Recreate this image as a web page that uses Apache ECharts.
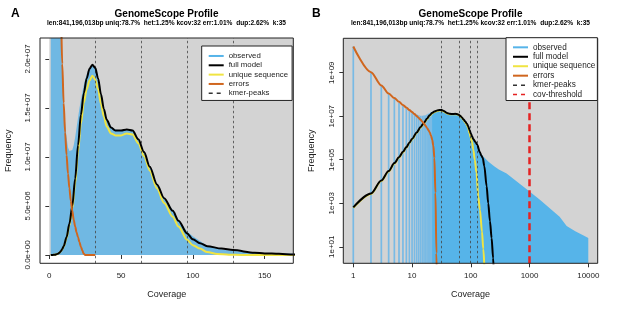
<!DOCTYPE html>
<html>
<head>
<meta charset="utf-8">
<script src="https://cdn.jsdelivr.net/npm/echarts@6.0.0/dist/echarts.min.js"></script>
<style>
  html, body { margin: 0; padding: 0; background: #fff; }
  #main { width: 617px; height: 311px; }
</style>
</head>
<body>
<div id="main"></div>
<script>
// k-mer histogram (observed)
const obsCov = [1, 2, 3, 4, 5, 6, 7, 8, 9, 10, 11, 12, 13, 14, 15, 16, 17, 18, 19, 20,
  21, 22, 23, 24, 25, 26, 27, 28, 29, 30, 32, 34, 36, 38, 40, 43, 46, 50, 54, 58,
  62, 66, 70, 75, 80, 86, 90, 96, 100, 110, 120, 128, 140, 150, 163, 200, 250, 300,
  407, 1000, 1500, 3250, 4280, 6000, 8000, 10000];
const obsFreq = [1.6e10, 1.0e9, 2.7e8, 1.1e8, 6.5e7, 4.2e7, 3.0e7, 2.3e7, 1.85e7, 1.55e7,
  1.35e7, 1.2e7, 1.1e7, 1.06e7, 1.04e7, 1.07e7, 1.12e7, 1.2e7, 1.3e7, 1.4e7,
  1.5e7, 1.58e7, 1.66e7, 1.73e7, 1.79e7, 1.84e7, 1.88e7, 1.91e7, 1.93e7, 1.93e7,
  1.9e7, 1.78e7, 1.62e7, 1.49e7, 1.39e7, 1.31e7, 1.28e7, 1.27e7, 1.28e7, 1.27e7,
  1.18e7, 1.05e7, 9.0e6, 7.2e6, 5.8e6, 4.6e6, 3.6e6, 2.4e6, 1.9e6, 9.5e5, 5.5e5, 4e5,
  2.4e5, 1.9e5, 1.4e5, 8e4, 5e4, 3.6e4, 2.3e4, 3.5e3, 1.45e3, 240, 90, 52, 35, 25];

// full model
const fullCov = [1, 2, 3, 4, 5, 6, 7, 8, 9, 10, 12, 14, 16, 18, 20, 22, 24, 26, 28, 30,
  32, 34, 36, 38, 40, 43, 46, 50, 54, 58, 62, 66, 70, 75, 80, 86, 90, 96, 100, 105,
  110, 120, 128, 143, 150, 160, 170, 186, 198, 212, 226, 240, 250, 260];
const fullFreq = [650, 2800, 1.1e4, 3e4, 7e4, 1.3e5, 2.3e5, 3.8e5, 6e5, 9e5, 1.8e6, 3.2e6,
  5e6, 7.8e6, 1.12e7, 1.43e7, 1.65e7, 1.8e7, 1.9e7, 1.94e7, 1.91e7, 1.8e7, 1.64e7,
  1.49e7, 1.38e7, 1.3e7, 1.27e7, 1.27e7, 1.28e7, 1.27e7, 1.18e7, 1.05e7, 9.0e6, 7.2e6,
  5.8e6, 4.5e6, 3.5e6, 2.2e6, 1.6e6, 1.2e6, 9e5, 6.5e5, 5e5, 2.2e5, 1.6e5, 1.2e5, 5e4,
  6e3, 1e3, 150, 25, 3, 0.3, 0.01];

// unique sequence
const uniqCov = [1, 2, 3, 4, 5, 6, 7, 8, 9, 10, 12, 14, 16, 18, 20, 22, 24, 26, 28, 30,
  32, 34, 36, 38, 40, 43, 46, 50, 54, 58, 62, 66, 70, 75, 80, 86, 90, 96, 100, 105,
  110, 117, 125, 134, 143, 155, 163, 175, 185];
const uniqFreq = [620, 2650, 1.05e4, 2.85e4, 6.6e4, 1.23e5, 2.2e5, 3.6e5, 5.7e5, 8.5e5,
  1.7e6, 3.0e6, 4.7e6, 7.3e6, 1.05e7, 1.34e7, 1.55e7, 1.69e7, 1.78e7, 1.83e7, 1.79e7,
  1.69e7, 1.54e7, 1.41e7, 1.31e7, 1.24e7, 1.22e7, 1.22e7, 1.24e7, 1.23e7, 1.14e7,
  1.01e7, 8.6e6, 6.8e6, 5.3e6, 3.9e6, 2.9e6, 1.55e6, 1.0e6, 6.5e5, 3e5, 1e5, 2.5e4,
  2e3, 500, 50, 8, 0.5, 0.01];

// errors
const errCov = [1, 2, 3, 4, 5, 6, 7, 8, 9, 10, 11, 12, 13, 14, 15, 16, 17, 18, 19, 20,
  21, 22, 23, 24, 25, 26, 27, 28, 30, 32];
const errFreq = [1.6e10, 1.05e9, 2.6e8, 1.1e8, 6.8e7, 4.6e7, 3.3e7, 2.5e7, 1.95e7, 1.55e7,
  1.25e7, 1.02e7, 8.3e6, 6.8e6, 5.5e6, 4.5e6, 3.6e6, 2.9e6, 2.3e6, 1.8e6,
  1.3e6, 8.5e5, 4.5e5, 1.2e5, 3e3, 5, 0.01, 1e-3, 1e-4, 1e-5];

const peaks = [32, 64, 96, 128];
const covThreshold = 1000;

const xTicksA = [0, 50, 100, 150];
const yTicksA = [0, 5e6, 1e7, 1.5e7, 2e7];
const yLabelsA = ['0.0e+00', '5.0e+06', '1.0e+07', '1.5e+07', '2.0e+07'];
const xTicksB = [1, 10, 100, 1000, 10000];
const yTicksB = [10, 1e3, 1e5, 1e7, 1e9];
const yLabelsB = ['1e+01', '1e+03', '1e+05', '1e+07', '1e+09'];

const subText = 'len:841,196,013bp uniq:78.7%  het:1.25% kcov:32 err:1.01%  dup:2.62%  k:35';

// axis ranges of the two panels
const xMinA = -6.5, xMaxA = 170, yMinA = -0.85e6, yMaxA = 2.214e7;
const xMinB = 0.676, xMaxB = 14454, yMinB = 1.738, yMaxB = 3.8e10;

const C_HIST = '#56B4E9';
const C_HIST_A = '#70b8e3';
const C_FULL = '#000000';
const C_UNIQ = '#F0E442';
const C_ERR = '#D0661E';
const C_PEAK = '#333333';
const C_THR = '#e52222';
const C_BG = '#d3d3d3';
const FONT = 'Liberation Sans, Arial, sans-serif';

function pairs(xs, ys) {
  return xs.map((x, i) => [x, ys[i]]);
}

function findLabel(v, ticks, labels, log) {
  for (let i = 0; i < ticks.length; i++) {
    const d = log ? Math.abs(Math.log10(v) - Math.log10(ticks[i])) : Math.abs(v - ticks[i]);
    if (d < 1e-6 * (log ? 1 : Math.max(1, Math.abs(ticks[i])))) return labels[i];
  }
  return '';
}

var chart = echarts.init(document.getElementById('main'), null, { renderer: 'canvas' });

function xAxisCfg(idx, type, min, max, ticks, fmt) {
  return {
    gridIndex: idx, type: type, min: min, max: max,
    axisLine: { show: false },
    splitLine: { show: false },
    axisTick: { show: true, length: 4, customValues: ticks, lineStyle: { color: '#333' } },
    axisLabel: { customValues: ticks, fontSize: 8, color: '#222', margin: 8, fontFamily: FONT, formatter: fmt },
    name: 'Coverage', nameLocation: 'middle', nameGap: 27,
    nameTextStyle: { fontSize: 9, color: '#222', fontFamily: FONT }
  };
}

function yAxisCfg(idx, type, min, max, ticks, fmt) {
  return {
    gridIndex: idx, type: type, min: min, max: max,
    axisLine: { show: false },
    splitLine: { show: false },
    axisTick: { show: true, length: 4, customValues: ticks, lineStyle: { color: '#333' } },
    axisLabel: { customValues: ticks, fontSize: 8, color: '#222', margin: 8, rotate: 90, fontFamily: FONT, formatter: fmt },
    name: 'Frequency', nameLocation: 'middle', nameGap: 27,
    nameTextStyle: { fontSize: 9, color: '#222', fontFamily: FONT }
  };
}

function legendCfg(left, top, names, fontSize, rowH, pad) {
  const styles = {
    'observed': { color: C_HIST, width: 2, type: 'solid' },
    'full model': { color: C_FULL, width: 2, type: 'solid' },
    'unique sequence': { color: C_UNIQ, width: 2, type: 'solid' },
    'errors': { color: C_ERR, width: 2, type: 'solid' },
    'kmer-peaks': { color: C_PEAK, width: 1.5, type: [4, 4] },
    'cov-threshold': { color: C_THR, width: 1.5, type: [4, 4] }
  };
  return {
    orient: 'vertical', left: left, top: top,
    data: names.map(n => ({ name: n, lineStyle: styles[n], itemStyle: { color: styles[n].color, opacity: 0 } })),
    itemWidth: 15, itemHeight: rowH, itemGap: 0,
    padding: pad,
    backgroundColor: '#fff', borderColor: '#222', borderWidth: 1, borderRadius: 0,
    textStyle: { fontSize: fontSize, color: '#222', fontFamily: FONT, lineHeight: rowH },
    selectedMode: false, z: 20
  };
}

function modelSeries(name, xi, xs, ys, color, z) {
  return {
    name: name, type: 'line', xAxisIndex: xi, yAxisIndex: xi,
    data: pairs(xs, ys), symbol: 'none', smooth: 0.3, smoothMonotone: 'x',
    lineStyle: { color: color, width: 2 }, z: z, silent: true
  };
}

function peakSeries(xi) {
  return {
    name: 'kmer-peaks', type: 'line', xAxisIndex: xi, yAxisIndex: xi, data: [],
    symbol: 'none', lineStyle: { color: C_PEAK, width: 1, type: [3, 3] }, z: 3,
    markLine: {
      silent: true, symbol: ['none', 'none'], label: { show: false },
      lineStyle: { color: '#444', width: 0.8, type: [2.5, 2.5] },
      data: peaks.map(p => ({ xAxis: p }))
    }
  };
}

function bgSeries(xi, x0, y0, x1, y1) {
  return {
    type: 'line', xAxisIndex: xi, yAxisIndex: xi, data: [], z: 1, silent: true,
    markArea: {
      silent: true, itemStyle: { color: C_BG },
      data: [[{ coord: [x0, y0] }, { coord: [x1, y1] }]]
    }
  };
}

const obsLines = pairs(obsCov, obsFreq).filter(d => d[0] <= 30);
const obsAreaB = pairs(obsCov, obsFreq).filter(d => d[0] >= 22);

var option = {
  animation: false,
  textStyle: { fontFamily: FONT },
  grid: [
    { left: 40, top: 38, width: 253.3, height: 225.3, show: true, borderColor: '#222', borderWidth: 1, backgroundColor: 'transparent', z: 10 },
    { left: 343.3, top: 38.3, width: 254.4, height: 225, show: true, borderColor: '#222', borderWidth: 1, backgroundColor: 'transparent', z: 10 }
  ],
  xAxis: [
    xAxisCfg(0, 'value', xMinA, xMaxA, xTicksA, v => String(v)),
    xAxisCfg(1, 'log', xMinB, xMaxB, xTicksB, v => String(Math.round(v)))
  ],
  yAxis: [
    yAxisCfg(0, 'value', yMinA, yMaxA, yTicksA, v => findLabel(v, yTicksA, yLabelsA, false)),
    yAxisCfg(1, 'log', yMinB, yMaxB, yTicksB, v => findLabel(v, yTicksB, yLabelsB, true))
  ],
  legend: [
    legendCfg(201.7, 46, ['observed', 'full model', 'unique sequence', 'errors', 'kmer-peaks'], 7.8, 9.33, [5.3, 4, 2.5, 6]),
    legendCfg(506, 37.7, ['observed', 'full model', 'unique sequence', 'errors', 'kmer-peaks', 'cov-threshold'], 8.2, 9.45, [4.9, 2, 1.2, 6])
  ],
  graphic: [
    { type: 'text', x: 11, y: 8, style: { text: 'A', font: 'bold 12px ' + FONT, fill: '#000' } },
    { type: 'text', x: 312, y: 8, style: { text: 'B', font: 'bold 12px ' + FONT, fill: '#000' } },
    { type: 'text', x: 166.5, y: 14, style: { text: 'GenomeScope Profile', font: 'bold 10px ' + FONT, fill: '#000', align: 'center', verticalAlign: 'middle' } },
    { type: 'text', x: 166.5, y: 23.5, style: { text: subText, font: 'bold 6.6px ' + FONT, fill: '#000', align: 'center', verticalAlign: 'middle' } },
    { type: 'text', x: 470.5, y: 14, style: { text: 'GenomeScope Profile', font: 'bold 10px ' + FONT, fill: '#000', align: 'center', verticalAlign: 'middle' } },
    { type: 'text', x: 470.5, y: 23.5, style: { text: subText, font: 'bold 6.6px ' + FONT, fill: '#000', align: 'center', verticalAlign: 'middle' } }
  ],
  series: [
    // panel A (linear)
    bgSeries(0, 0, 0, xMaxA, yMaxA),
    {
      name: 'observed', type: 'line', xAxisIndex: 0, yAxisIndex: 0,
      data: pairs(obsCov, obsFreq), symbol: 'none',
      lineStyle: { width: 0, color: C_HIST_A }, areaStyle: { color: C_HIST_A, opacity: 1 },
      z: 2, silent: true
    },
    peakSeries(0),
    modelSeries('unique sequence', 0, uniqCov, uniqFreq, C_UNIQ, 4),
    modelSeries('full model', 0, fullCov, fullFreq, C_FULL, 5),
    modelSeries('errors', 0, errCov, errFreq, C_ERR, 6),

    // panel B (log-log)
    bgSeries(1, xMinB, yMinB, xMaxB, yMaxB),
    {
      type: 'custom', xAxisIndex: 1, yAxisIndex: 1, data: obsLines, z: 2, silent: true, clip: true,
      renderItem: function (params, api) {
        const top = api.coord([api.value(0), api.value(1)]);
        const bot = api.coord([api.value(0), yMinB]);
        return {
          type: 'line',
          shape: { x1: top[0], y1: top[1], x2: bot[0], y2: bot[1] },
          style: { stroke: '#78bae5', lineWidth: 1.7 }
        };
      }
    },
    {
      type: 'line', xAxisIndex: 1, yAxisIndex: 1, data: obsAreaB, symbol: 'none',
      lineStyle: { width: 0, color: C_HIST }, areaStyle: { color: C_HIST, opacity: 1, origin: 'start' },
      z: 2, silent: true
    },
    peakSeries(1),
    modelSeries('unique sequence', 1, uniqCov, uniqFreq, C_UNIQ, 4),
    modelSeries('full model', 1, fullCov, fullFreq, C_FULL, 5),
    modelSeries('errors', 1, errCov, errFreq, C_ERR, 6),
    {
      name: 'cov-threshold', type: 'line', xAxisIndex: 1, yAxisIndex: 1, data: [],
      symbol: 'none', lineStyle: { color: C_THR, width: 2.5, type: [7, 4] }, z: 7,
      markLine: {
        silent: true, symbol: ['none', 'none'], label: { show: false },
        lineStyle: { color: C_THR, width: 2.5, type: [7, 4] },
        data: [{ xAxis: covThreshold }]
      }
    }
  ]
};

chart.setOption(option);
</script>
</body>
</html>
